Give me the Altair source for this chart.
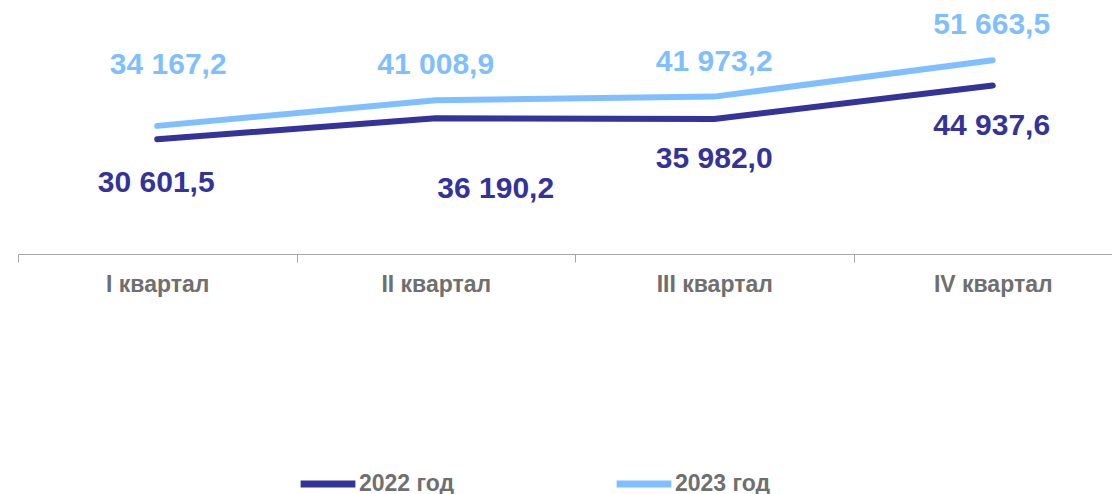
import altair as alt
import pandas as pd

# ---- data ----
quarters = ["I квартал", "II квартал", "III квартал", "IV квартал"]
series_names = ["2022 год", "2023 год"]
values_2022 = [30601.5, 36190.2, 35982.0, 44937.6]
values_2023 = [34167.2, 41008.9, 41973.2, 51663.5]

# ---- label placement (layout, pixels) ----
dx_2022 = [-1, 60, 0, -1]
dy_2022 = [44, 71, 40, 41]
dx_2023 = [11, 0, 0, -1]
dy_2023 = [-61, -35, -35, -35]

DARK = "#333399"
LIGHT = "#80bfff"
FONT = "Liberation Sans"


def fmt(v):
    s = f"{v:,.1f}"
    return s.replace(",", " ").replace(".", ",")


rows = []
for name, vals in [(series_names[0], values_2022), (series_names[1], values_2023)]:
    for q, v in zip(quarters, vals):
        rows.append({"quarter": q, "series": name, "value": v, "label": fmt(v)})
df = pd.DataFrame(rows)

x_enc = alt.X(
    "quarter:N",
    sort=quarters,
    bandPosition=0.5,
    scale=alt.Scale(type="band", domain=quarters, range=[0, 1114],
                    paddingInner=0, paddingOuter=0),
    axis=alt.Axis(
        title=None,
        tickBand="extent",
        domainColor="#a6a6a6",
        tickColor="#a6a6a6",
        tickSize=8,
        labelFont=FONT,
        labelFontSize=23,
        labelFontWeight="bold",
        labelColor="#6f6f6f",
        labelPadding=11,
        labelAngle=0,
    ),
)
y_enc = alt.Y("value:Q", scale=alt.Scale(domain=[0, 65600], nice=False, zero=True),
              axis=None)
color_enc = alt.Color(
    "series:N",
    scale=alt.Scale(domain=series_names, range=[DARK, LIGHT]),
    legend=alt.Legend(
        title=None,
        orient="none",
        legendX=279,
        legendY=445,
        direction="horizontal",
        symbolType="stroke",
        symbolSize=3000,
        symbolStrokeWidth=7,
        labelFont=FONT,
        labelFontSize=23,
        labelFontWeight="bold",
        labelColor="#6f6f6f",
        labelOffset=0,
        columnPadding=147,
        padding=0,
    ),
)

base = alt.Chart(df)

lines = base.mark_line(strokeWidth=6, strokeCap="round", strokeJoin="round").encode(
    x=x_enc, y=y_enc, color=color_enc
)

layers = [lines]
for name, dxs, dys in [(series_names[0], dx_2022, dy_2022),
                       (series_names[1], dx_2023, dy_2023)]:
    for q, dx, dy in zip(quarters, dxs, dys):
        layers.append(
            base.transform_filter(
                (alt.datum.series == name) & (alt.datum.quarter == q)
            ).mark_text(
                font=FONT, fontSize=30, fontWeight="bold",
                baseline="middle", align="center", dx=dx, dy=dy,
            ).encode(x=x_enc, y=y_enc, text="label:N", color=color_enc)
        )

chart = alt.layer(*layers).properties(
    width=1094,
    height=246,
    autosize=alt.AutoSizeParams(type="none"),
    padding={"left": 10, "top": 0, "right": 0, "bottom": 240},
).configure_view(stroke=None)

chart.save("out.html", embed_options={"renderer": "svg", "actions": False})
